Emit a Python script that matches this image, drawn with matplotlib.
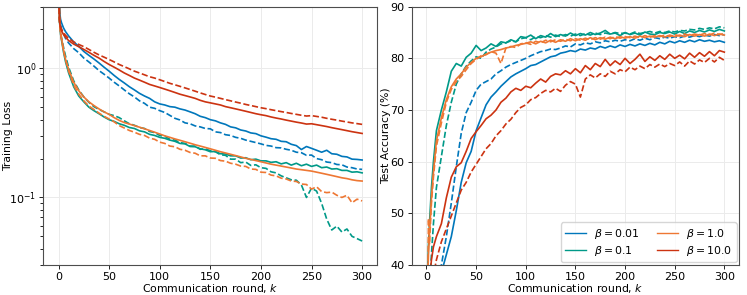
import numpy as np
import matplotlib
matplotlib.use("Agg")
import matplotlib.pyplot as plt
from matplotlib.ticker import NullFormatter, LogLocator

rounds = [0, 1, 2, 3, 5, 7, 10] + list(range(15, 301, 5))

betas = [r"$\beta = 0.01$", r"$\beta = 0.1$", r"$\beta = 1.0$", r"$\beta = 10.0$"]
colors = ["#0077BB", "#009988", "#EE7733", "#CC3311"]

# Training loss (solid / dashed variant per beta)
loss_b001_solid = [6, 2.8, 2.4, 2.25, 2.05, 1.92, 1.78, 1.6, 1.48, 1.35, 1.26, 1.18, 1.1, 1.02, 0.95,
                   0.88, 0.82, 0.77, 0.72, 0.68, 0.64, 0.61, 0.585, 0.55, 0.53, 0.52, 0.505, 0.5, 0.485,
                   0.475, 0.46, 0.445, 0.425, 0.415, 0.4, 0.392, 0.378, 0.368, 0.352, 0.346, 0.333,
                   0.327, 0.316, 0.312, 0.3, 0.293, 0.285, 0.282, 0.272, 0.27, 0.258, 0.252, 0.235,
                   0.248, 0.24, 0.232, 0.224, 0.232, 0.218, 0.216, 0.208, 0.206, 0.198, 0.197, 0.195]
loss_b001_dash = [6, 2.6, 2.2, 2.0, 1.85, 1.7, 1.57, 1.42, 1.32, 1.2, 1.12, 1.04, 0.96, 0.9, 0.84,
                  0.78, 0.73, 0.68, 0.635, 0.6, 0.56, 0.535, 0.5, 0.49, 0.47, 0.455, 0.432, 0.41,
                  0.398, 0.378, 0.372, 0.358, 0.352, 0.342, 0.34, 0.322, 0.318, 0.306, 0.302, 0.292,
                  0.287, 0.278, 0.272, 0.266, 0.26, 0.253, 0.25, 0.243, 0.242, 0.236, 0.232, 0.224,
                  0.222, 0.212, 0.213, 0.2, 0.196, 0.188, 0.186, 0.18, 0.179, 0.172, 0.17, 0.166, 0.165]
loss_b01_solid = [6, 2.3, 1.85, 1.65, 1.33, 1.12, 0.92, 0.72, 0.61, 0.55, 0.5, 0.47, 0.445, 0.42, 0.4,
                  0.388, 0.372, 0.362, 0.348, 0.342, 0.328, 0.322, 0.308, 0.302, 0.292, 0.287, 0.278,
                  0.272, 0.262, 0.26, 0.248, 0.247, 0.238, 0.234, 0.226, 0.227, 0.218, 0.217, 0.21,
                  0.21, 0.202, 0.203, 0.196, 0.198, 0.192, 0.192, 0.187, 0.189, 0.182, 0.186, 0.178,
                  0.184, 0.176, 0.181, 0.174, 0.178, 0.17, 0.172, 0.166, 0.167, 0.162, 0.162, 0.157,
                  0.158, 0.155]
loss_b01_dash = [6, 2.35, 1.9, 1.72, 1.45, 1.24, 1.02, 0.8, 0.68, 0.6, 0.545, 0.505, 0.48, 0.46, 0.44,
                 0.43, 0.415, 0.392, 0.372, 0.362, 0.348, 0.342, 0.324, 0.318, 0.302, 0.298, 0.282,
                 0.278, 0.266, 0.262, 0.25, 0.25, 0.236, 0.238, 0.23, 0.226, 0.214, 0.212, 0.198,
                 0.198, 0.186, 0.188, 0.177, 0.179, 0.17, 0.168, 0.158, 0.155, 0.147, 0.142, 0.137,
                 0.136, 0.125, 0.1, 0.118, 0.112, 0.09, 0.068, 0.056, 0.06, 0.054, 0.057, 0.05,
                 0.048, 0.046]
loss_b1_solid = [6, 2.4, 1.9, 1.7, 1.38, 1.17, 0.98, 0.78, 0.67, 0.6, 0.55, 0.515, 0.485, 0.46, 0.44,
                 0.415, 0.395, 0.38, 0.37, 0.36, 0.35, 0.34, 0.33, 0.32, 0.31, 0.3, 0.292, 0.284,
                 0.277, 0.27, 0.263, 0.256, 0.25, 0.244, 0.238, 0.232, 0.226, 0.221, 0.216, 0.211,
                 0.206, 0.201, 0.197, 0.193, 0.189, 0.185, 0.181, 0.178, 0.175, 0.172, 0.169, 0.166,
                 0.164, 0.162, 0.16, 0.157, 0.154, 0.151, 0.148, 0.145, 0.142, 0.14, 0.137, 0.135,
                 0.134]
loss_b1_dash = [6, 2.3, 1.85, 1.68, 1.37, 1.16, 0.95, 0.74, 0.63, 0.56, 0.51, 0.48, 0.45, 0.425, 0.405,
                0.385, 0.36, 0.345, 0.33, 0.32, 0.308, 0.302, 0.288, 0.282, 0.268, 0.262, 0.25, 0.247,
                0.236, 0.232, 0.223, 0.22, 0.21, 0.21, 0.202, 0.201, 0.193, 0.191, 0.184, 0.181,
                0.175, 0.174, 0.166, 0.165, 0.157, 0.156, 0.149, 0.147, 0.141, 0.139, 0.134, 0.133,
                0.127, 0.126, 0.116, 0.121, 0.111, 0.109, 0.11, 0.104, 0.1, 0.104, 0.091, 0.097,
                0.094]
loss_b10_solid = [6, 2.3, 2.05, 1.95, 1.82, 1.74, 1.64, 1.54, 1.47, 1.4, 1.33, 1.26, 1.2, 1.13, 1.07,
                  1.02, 0.97, 0.92, 0.88, 0.84, 0.81, 0.78, 0.75, 0.73, 0.71, 0.69, 0.67, 0.65, 0.63,
                  0.615, 0.6, 0.585, 0.565, 0.55, 0.54, 0.53, 0.52, 0.505, 0.495, 0.485, 0.475,
                  0.465, 0.455, 0.445, 0.437, 0.43, 0.42, 0.412, 0.405, 0.397, 0.39, 0.383, 0.377,
                  0.37, 0.372, 0.366, 0.36, 0.354, 0.347, 0.341, 0.335, 0.329, 0.323, 0.318, 0.313]
loss_b10_dash = [6, 2.4, 2.1, 2.0, 1.88, 1.8, 1.7, 1.6, 1.53, 1.47, 1.4, 1.33, 1.27, 1.22, 1.17,
                 1.12, 1.07, 1.03, 0.99, 0.95, 0.92, 0.89, 0.86, 0.84, 0.815, 0.79, 0.765, 0.745,
                 0.725, 0.705, 0.685, 0.665, 0.645, 0.627, 0.61, 0.598, 0.585, 0.572, 0.56, 0.548,
                 0.537, 0.525, 0.515, 0.505, 0.495, 0.487, 0.478, 0.47, 0.462, 0.455, 0.447, 0.44,
                 0.433, 0.427, 0.43, 0.424, 0.418, 0.41, 0.403, 0.397, 0.39, 0.384, 0.378, 0.373,
                 0.368]

# Test accuracy (%)
acc_b001_solid = [10, 15, 20, 24, 28, 31, 34, 38.5, 42, 45.5, 50.5, 56, 59.8, 62, 66, 68.5, 71, 72.5,
                  73.5, 74.6, 75.5, 76.4, 77, 77.5, 78, 78.6, 78.8, 79.3, 79.8, 80.3, 80.5, 81, 81.2,
                  81.5, 81.3, 81.8, 81.6, 82, 81.8, 82.3, 82, 82.4, 82.1, 82.6, 82.3, 82.7, 82.4,
                  82.8, 82.5, 82.9, 82.6, 83.1, 82.8, 83.3, 83, 83.4, 83.1, 83.5, 83.2, 83.6, 83.3,
                  83.5, 83.2, 83.4, 83.1]
acc_b001_dash = [10, 16, 22, 26, 30, 33, 36, 40, 45.5, 52, 59, 65.5, 69.5, 71.5, 73.8, 75, 75.5, 76,
                 77, 77.6, 78.3, 78.8, 79.2, 79.6, 80, 80.5, 80.9, 81.3, 81.5, 81.8, 81.7, 82, 82.4,
                 82.2, 82.8, 82.6, 83, 82.8, 83.2, 83, 83.4, 83.2, 83.5, 83.3, 83.6, 83.4, 83.8, 83.5,
                 83.9, 83.6, 84, 83.8, 84.1, 83.9, 84.2, 84, 84.3, 84.1, 84.4, 84.2, 84.5, 84.3, 84.6,
                 84.4, 84.6]
acc_b01_solid = [10, 38, 44, 48, 55, 60, 66, 70, 73.5, 77.5, 79, 78.5, 80.2, 81, 82.5, 81.5, 82, 82.8,
                 82.3, 83.2, 83, 83.6, 83.2, 84.2, 84, 84.5, 83.8, 84.4, 84.1, 84.8, 84.2, 84.6, 84.3,
                 84.9, 84.4, 84.8, 84.5, 85, 84.6, 84.9, 85.4, 84.7, 84.9, 84.4, 85, 84.6, 84.9, 84.5,
                 85.1, 84.7, 84.6, 85, 84.8, 85.1, 84.7, 85.2, 84.8, 85.3, 85, 85.4, 85.1, 85.5, 85.2,
                 85.6, 85.3]
acc_b01_dash = [10, 20, 30, 36, 42, 48, 55, 61, 67, 71.5, 75, 77, 78.5, 79.5, 80.3, 80, 81.2, 81.8,
                82.2, 82.8, 83, 83.4, 83.2, 83.8, 84, 83.6, 84.2, 84, 84.4, 84.1, 84.5, 84.2, 84.6,
                84.3, 84.7, 84.4, 84.8, 84.5, 84.9, 84.6, 84.9, 84.7, 85, 84.8, 84.9, 84.7, 85.1, 84.8,
                85, 85.2, 84.9, 85.2, 85, 85.3, 85.1, 85.4, 85.3, 85.6, 85.5, 85.8, 85.6, 85.9, 85.7,
                86.1, 85.9]
acc_b1_solid = [10, 36, 42, 46, 53, 58, 64, 68.5, 72, 74.5, 76, 77, 78.3, 79.2, 80, 80.3, 80.8, 81.2,
                81.5, 81.7, 82, 82.2, 82.5, 82.7, 82.9, 83.2, 82.8, 83.3, 83, 83.5, 83.1, 83.6, 83.3,
                83.8, 83.4, 83.8, 83.5, 84, 83.6, 84, 83.7, 84.1, 83.8, 84.2, 83.9, 84.2, 83.9, 84.3,
                84, 84.3, 84.1, 84.4, 84.1, 84.5, 84.2, 84.5, 84.2, 84.6, 84.3, 84.6, 84.3, 84.7, 84.4,
                84.7, 84.5]
acc_b1_dash = [10, 30, 49, 44, 52, 57, 63, 67.5, 71.5, 74, 75.5, 76.5, 77.8, 79, 79.8, 80.5, 80.7,
               81.3, 81, 79, 82, 82.3, 82.1, 82.8, 83, 82.7, 83.3, 83, 83.5, 83.2, 83.6, 83.3, 83.7,
               83.4, 83.8, 83.5, 83.9, 83.6, 84, 83.7, 84.1, 83.8, 84.2, 83.9, 84.2, 84, 84.3, 84,
               84.4, 84.1, 84.4, 84.2, 84.5, 84.2, 84.6, 84.3, 84.7, 84.4, 84.7, 84.5, 84.8, 84.5,
               84.9, 84.6, 84.8]
acc_b10_solid = [10, 25, 32, 37, 41, 43.5, 45.5, 48, 53, 57, 59, 59.8, 62, 64.5, 65.8, 67, 68.3, 69,
                 70, 71.5, 72.3, 73.5, 74.2, 73.8, 74.6, 74.3, 75.2, 76, 75.4, 76.5, 77, 76.8, 77.6,
                 77, 78, 77.2, 78.6, 77.8, 79, 78.4, 79.8, 78.6, 79.5, 78.8, 80, 79, 79.8, 80.8, 79.4,
                 80.3, 79.6, 80.5, 79.8, 80.8, 80, 80.6, 79.9, 81, 80.2, 81.1, 80.4, 81.3, 80.5, 81.5,
                 81.2]
acc_b10_dash = [10, 20, 26, 30, 34, 38, 41, 44.5, 47, 49.5, 52, 54.5, 56, 58, 59.5, 61, 62.5, 63.5,
                65, 66, 67.3, 68.2, 69.5, 70.5, 71, 72, 72.4, 73.2, 73.8, 73.5, 74.2, 73.6, 74.8,
                75.5, 75, 72.5, 76, 76.8, 76.2, 77, 76.5, 77.5, 77, 77.8, 77.4, 78.3, 77.8, 78.5, 78,
                78.8, 78.3, 78.9, 78.4, 79, 78.6, 79.3, 78.5, 79.5, 78.9, 79.7, 79.2, 80, 79.3, 80.2,
                79.6]

loss_solid = [loss_b001_solid, loss_b01_solid, loss_b1_solid, loss_b10_solid]
loss_dash = [loss_b001_dash, loss_b01_dash, loss_b1_dash, loss_b10_dash]
acc_solid = [acc_b001_solid, acc_b01_solid, acc_b1_solid, acc_b10_solid]
acc_dash = [acc_b001_dash, acc_b01_dash, acc_b1_dash, acc_b10_dash]

plt.rcParams["font.family"] = "DejaVu Sans"
fig = plt.figure(figsize=(7.47, 2.95), dpi=100)
ax1 = fig.add_axes([0.058, 0.1017, 0.4471, 0.8757])
ax2 = fig.add_axes([0.551, 0.1017, 0.4386, 0.8757])

for c, ys, yd in zip(colors, loss_solid, loss_dash):
    ax1.plot(rounds, ys, color=c, lw=1.2)
    ax1.plot(rounds, yd, color=c, lw=1.2, ls="--")
ax1.set_yscale("log")
ax1.set_ylim(0.03, 3.0)
ax1.yaxis.set_major_locator(LogLocator(base=10, numticks=10))
ax1.yaxis.set_minor_formatter(NullFormatter())
ax1.set_ylabel("Training Loss", fontsize=7.8)
ax1.yaxis.set_label_coords(-0.092, 0.5)

for c, lab, ys, yd in zip(colors, betas, acc_solid, acc_dash):
    ax2.plot(rounds, ys, color=c, lw=1.2, label=lab)
    ax2.plot(rounds, yd, color=c, lw=1.2, ls="--")
ax2.set_ylim(40, 90)
ax2.set_ylabel("Test Accuracy (%)", fontsize=7.8)
ax2.yaxis.set_label_coords(-0.062, 0.5)

leg = ax2.legend(loc="lower right", ncol=2, fontsize=7.8, borderaxespad=0.25,
                 handlelength=1.9, columnspacing=1.6, labelspacing=0.3)
for h in leg.get_lines():
    h.set_linewidth(1.0)

for ax in (ax1, ax2):
    ax.set_xlim(-15, 315)
    ax.set_xticks([0, 50, 100, 150, 200, 250, 300])
    ax.set_xlabel("Communication round, $k$", fontsize=7.8, labelpad=0)
    ax.tick_params(labelsize=8, width=0.6, length=3, pad=2)
    ax.grid(True, color="0.92", lw=0.7)
    for s in ax.spines.values():
        s.set_color("0.3")
        s.set_linewidth(0.8)

fig.savefig("out.png", dpi=100)
